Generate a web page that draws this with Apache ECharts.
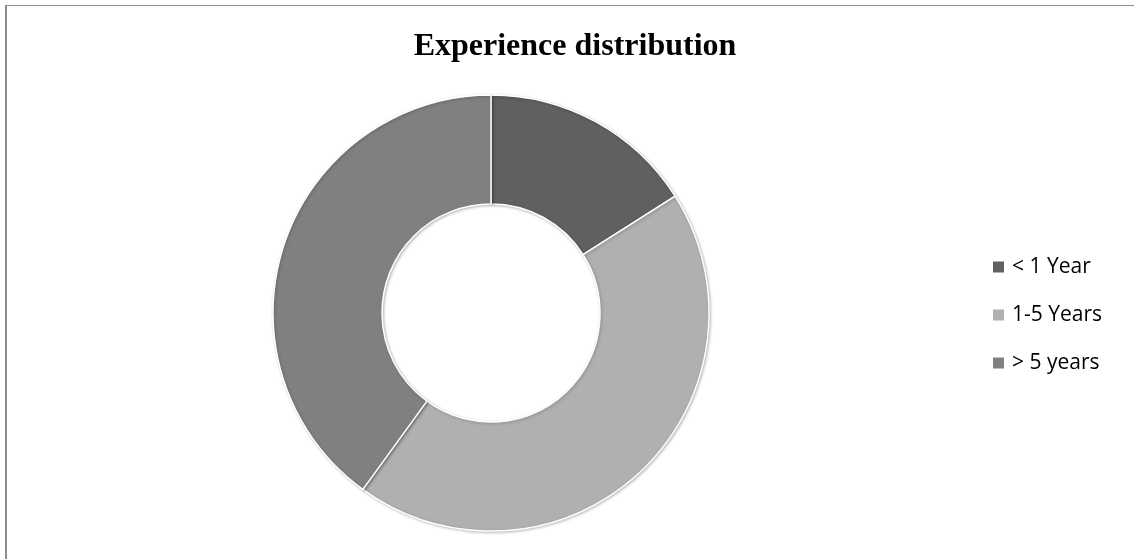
<!DOCTYPE html>
<html><head><meta charset="utf-8">
<script src="https://cdn.jsdelivr.net/npm/echarts@6/dist/echarts.min.js"></script>
<style>
html,body{margin:0;padding:0;background:#fff;overflow:hidden;}
#frame{position:absolute;left:5px;top:5px;width:1200px;height:600px;border-left:2px solid #8c8c8c;border-top:1px solid #8c8c8c;box-sizing:border-box;}
#c{position:absolute;left:0;top:0;width:1134px;height:559px;}
</style></head>
<body>
<div id="frame"></div>
<div id="c"></div>
<script>
const title = 'Experience distribution';
const categories = ['< 1 Year', '1-5 Years', '> 5 years'];
const values = [16, 44, 40];
const colors = ['#606060', '#b0b0b0', '#808080'];

const chart = echarts.init(document.getElementById('c'), null, {renderer: 'canvas'});
chart.setOption({
  animation: false,
  title: {
    text: title, left: 570, top: 26, textAlign: 'center',
    textStyle: {fontFamily: 'Liberation Serif', fontWeight: 'bold', fontSize: 32, color: '#000'}
  },
  legend: {
    orient: 'vertical', left: 991, top: 256, padding: 0,
    icon: 'rect', itemWidth: 13, itemHeight: 13, itemGap: 26,
    textStyle: {fontFamily: 'Open Sans', fontSize: 21, lineHeight: 22, color: '#000', padding: [0,0,0,2]},
    data: categories
  },
  series: [{
    type: 'pie',
    center: [491, 313],
    radius: [109, 218],
    startAngle: 90,
    clockwise: true,
    label: {show: false},
    labelLine: {show: false},
    emphasis: {disabled: true},
    itemStyle: {borderColor: '#fff', borderWidth: 1.5, shadowColor: 'rgba(0,0,0,0.25)', shadowBlur: 3, shadowOffsetX: 1, shadowOffsetY: 1},
    data: categories.map((n, i) => ({name: n, value: values[i], itemStyle: {color: colors[i]}}))
  }]
});
</script>
</body></html>
